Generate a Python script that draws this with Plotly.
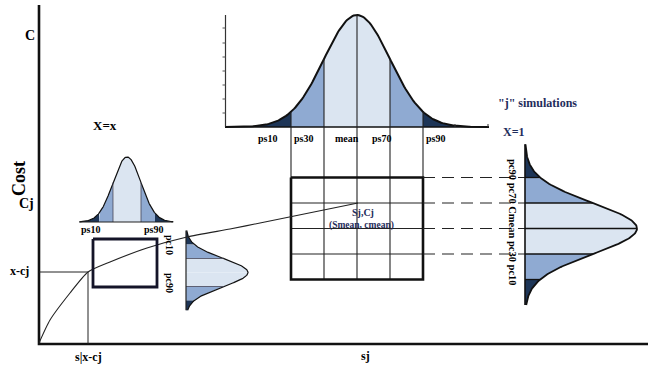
import numpy as np
import plotly.graph_objects as go

# ---------------- data (pixel units) ----------------
# standardized boundaries of the percentile bands (in sigma units)
BAND_Z = [-2, -1, 0, 1, 2]
TOP_LABELS = ["ps10", "ps30", "mean", "ps70", "ps90"]
TOP_LABEL_X = [267, 303, 347, 381, 435]
RIGHT_LABELS = ["pc90", "pc70", "Cmean", "pc30", "pc10"]
SMALL_TOP_LABELS = ["ps10", "ps90"]
SMALL_TOP_LABEL_X = [90, 153]
SMALL_SIDE_LABELS = ["pc10", "pc90"]
SMALL_SIDE_LABEL_Y = [245, 283]

# big top distribution (sj): centre, baseline, peak height, sigma
TOP_DIST = dict(c=357, base=127, h=112, s=33, lo=-4.0, hi=4.0)
# right distribution (cj): centre, baseline, peak width, sigma
RIGHT_DIST = dict(c=228.5, base=525, h=112, s=25.5, lo=-3.3, hi=3.0)
# small distributions at X=x
SMALL_TOP = dict(c=127, base=222, h=65, s=14, lo=-3.4, hi=3.3)
SMALL_SIDE = dict(c=272.5, base=186, h=62, s=14, lo=-3.0, hi=2.7)

# cost curve through the picture
CURVE_X = [39, 50, 70, 88, 110, 147, 187, 230, 260, 358]
CURVE_Y = [343, 320, 293, 272, 262, 248, 237, 229, 223, 203]

LIGHT = "#dbe5f1"
MID = "#8faad2"
DARK = "#1d3557"
NAVY = "#1f2d5c"
SERIF = "Liberation Serif"

fig = go.Figure()


def add_line(xs, ys, color="black", width=1.0, dash=None):
    fig.add_trace(go.Scatter(x=xs, y=ys, mode="lines",
                             line=dict(color=color, width=width, dash=dash),
                             hoverinfo="skip"))


def band_color(a, b):
    m = abs((a + b) / 2)
    if m > 2:
        return DARK
    if m > 1:
        return MID
    return LIGHT


def bell(d, t):
    return d["h"] * np.exp(-np.asarray(t) ** 2 / 2)


def horizontal_dist(d, lines_at, line_color="black", line_w=1.0, curve_w=1.6):
    edges = [d["lo"]] + BAND_Z + [d["hi"]]
    for a, b in zip(edges[:-1], edges[1:]):
        ts = np.linspace(a, b, 40)
        xs = d["c"] + ts * d["s"]
        ys = d["base"] - bell(d, ts)
        fig.add_trace(go.Scatter(
            x=[xs[0]] + list(xs) + [xs[-1]], y=[d["base"]] + list(ys) + [d["base"]],
            mode="lines", fill="toself", fillcolor=band_color(a, b),
            line=dict(width=0), hoverinfo="skip"))
    ts = np.linspace(d["lo"], d["hi"], 200)
    add_line(d["c"] + ts * d["s"], d["base"] - bell(d, ts), "#111", curve_w)
    for z in lines_at:
        add_line([d["c"] + z * d["s"]] * 2, [d["base"], d["base"] - bell(d, z)], line_color, line_w)


def vertical_dist(d, lines_at, line_color="black", line_w=1.0, curve_w=1.6):
    edges = [d["lo"]] + BAND_Z + [d["hi"]]
    for a, b in zip(edges[:-1], edges[1:]):
        ts = np.linspace(a, b, 40)
        ys = d["c"] + ts * d["s"]
        xs = d["base"] + bell(d, ts)
        fig.add_trace(go.Scatter(
            x=[d["base"]] + list(xs) + [d["base"]], y=[ys[0]] + list(ys) + [ys[-1]],
            mode="lines", fill="toself", fillcolor=band_color(a, b),
            line=dict(width=0), hoverinfo="skip"))
    ts = np.linspace(d["lo"], d["hi"], 200)
    add_line(d["base"] + bell(d, ts), d["c"] + ts * d["s"], "#111", curve_w)
    for z in lines_at:
        add_line([d["base"], d["base"] + bell(d, z)], [d["c"] + z * d["s"]] * 2, line_color, line_w)


# ---------------- grid built from the two sets of percentiles ----------------
grid_x = [TOP_DIST["c"] + z * TOP_DIST["s"] for z in BAND_Z]
grid_y = [RIGHT_DIST["c"] + z * RIGHT_DIST["s"] for z in BAND_Z]

# top big distribution
horizontal_dist(TOP_DIST, [], curve_w=2.0)
# its little axis
top_axis_x = TOP_DIST["c"] + TOP_DIST["lo"] * TOP_DIST["s"] + 0.5
add_line([top_axis_x, top_axis_x], [15, TOP_DIST["base"]], "#333", 1.2)
for ty in [28, 43, 57, 71, 85, 99, 113]:
    add_line([top_axis_x - 3, top_axis_x], [ty, ty], "#555", 1)
add_line([top_axis_x, 488], [TOP_DIST["base"], TOP_DIST["base"]], "#111", 1.6)
for tx in [455, 488]:
    add_line([tx, tx], [TOP_DIST["base"], TOP_DIST["base"] - 3], "#333", 1)

# vertical percentile lines from the top curve down through the grid
for z, gx in zip(BAND_Z, grid_x):
    add_line([gx, gx], [TOP_DIST["base"] - bell(TOP_DIST, z), grid_y[-1]], "#222", 1.1)
# horizontal grid rows
for gy in grid_y[1:-1]:
    add_line([grid_x[0], grid_x[-1]], [gy, gy], "#222", 1.1)
# grid frame
add_line([grid_x[0], grid_x[-1], grid_x[-1], grid_x[0], grid_x[0]],
         [grid_y[0], grid_y[0], grid_y[-1], grid_y[-1], grid_y[0]], "#111", 2.6)
# dashed links to the right distribution
for gy in grid_y[:-1]:
    add_line([grid_x[-1], RIGHT_DIST["base"]], [gy, gy], "#222", 1.1, "12px,7px")

# right distribution
vertical_dist(RIGHT_DIST, BAND_Z, "#111", 1.3, curve_w=1.8)
add_line([RIGHT_DIST["base"]] * 2, [RIGHT_DIST["c"] + RIGHT_DIST["lo"] * RIGHT_DIST["s"],
                                     RIGHT_DIST["c"] + RIGHT_DIST["hi"] * RIGHT_DIST["s"]], "#111", 1.6)

# small distributions
horizontal_dist(SMALL_TOP, [-1, 1], "#445", 0.8, curve_w=1.2)
add_line([SMALL_TOP["c"] + SMALL_TOP["lo"] * SMALL_TOP["s"], SMALL_TOP["c"] + SMALL_TOP["hi"] * SMALL_TOP["s"]],
         [SMALL_TOP["base"]] * 2, "#222", 1.2)
vertical_dist(SMALL_SIDE, [-1, 1], "#445", 0.8, curve_w=1.2)
add_line([SMALL_SIDE["base"]] * 2, [SMALL_SIDE["c"] + SMALL_SIDE["lo"] * SMALL_SIDE["s"],
                                    SMALL_SIDE["c"] + SMALL_SIDE["hi"] * SMALL_SIDE["s"]], "#222", 1.2)

# main axes
add_line([39, 39, 648], [5, 344, 344], "#111", 2.6)
# cost curve
fig.add_trace(go.Scatter(x=CURVE_X, y=CURVE_Y, mode="lines",
                         line=dict(color="#222", width=1.1, shape="spline", smoothing=0.6),
                         hoverinfo="skip"))
# x-cj guide lines
add_line([39, CURVE_X[3], CURVE_X[3]], [CURVE_Y[3], CURVE_Y[3], 344], "#222", 1)
# small box
add_line([93, 157, 157, 93, 93], [239, 239, 287, 287, 239], "#141428", 2.8)

# ---------------- text ----------------
def txt(x, y, s, size=11, color="black", angle=0, bold=True):
    fig.add_annotation(x=x, y=y, xref="x", yref="y", text=f"<b>{s}</b>" if bold else s,
                       showarrow=False, textangle=angle,
                       font=dict(family=SERIF, size=size, color=color))


txt(30, 35, "C", 14)
txt(19, 179, "Cost", 18, angle=-90)
txt(26, 203, "Cj", 14)
txt(19, 271, "x-cj", 12)
txt(88, 357, "s|x-cj", 12)
txt(365, 356, "sj", 12)
txt(105, 125, "X=x", 13)
for lab, x in zip(TOP_LABELS, TOP_LABEL_X):
    txt(x, 138, lab, 10)
txt(513, 222, "&nbsp;".join(RIGHT_LABELS), 10.5, angle=90)
for lab, x in zip(SMALL_TOP_LABELS, SMALL_TOP_LABEL_X):
    txt(x, 229, lab, 10)
for lab, y in zip(SMALL_SIDE_LABELS, SMALL_SIDE_LABEL_Y):
    txt(170, y, lab, 10, angle=90)
txt(363, 212, "Sj,Cj", 10, NAVY)
txt(361, 225, "(Smean, cmean)", 9.5, NAVY)
txt(537, 103, "\"j\" simulations", 12, NAVY)
txt(514, 132, "X=1", 12, NAVY)

fig.update_layout(
    width=648, height=368, margin=dict(l=0, r=0, t=0, b=0),
    paper_bgcolor="white", plot_bgcolor="white", showlegend=False,
    xaxis=dict(range=[0, 648], visible=False, fixedrange=True),
    yaxis=dict(range=[368, 0], visible=False, fixedrange=True),
)
fig.write_html("out.html")
